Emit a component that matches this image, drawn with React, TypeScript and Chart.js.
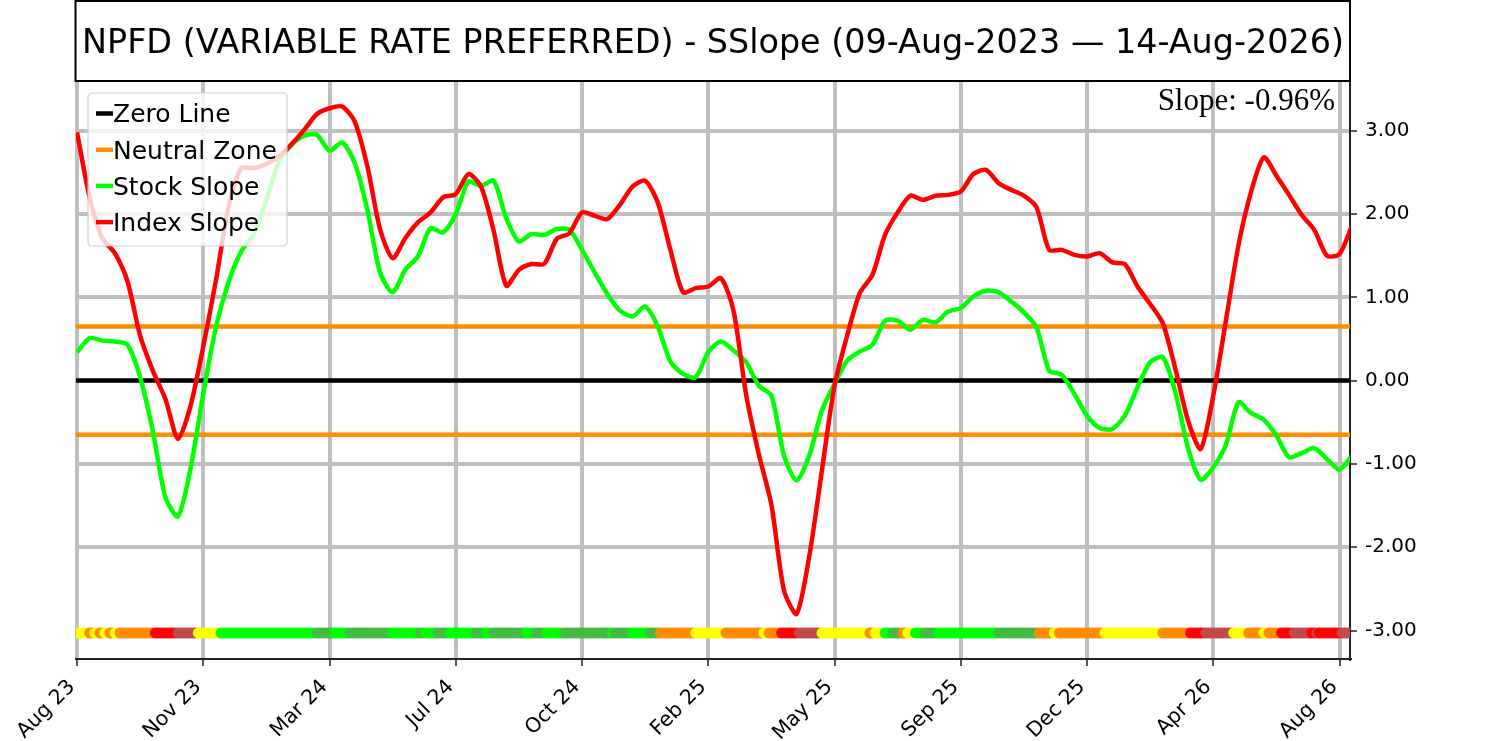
import React, { useEffect, useRef } from 'react';
import { Chart, registerables } from 'chart.js';

Chart.register(...registerables);

const TITLE = 'NPFD (VARIABLE RATE PREFERRED) - SSlope (09-Aug-2023 — 14-Aug-2026)';
const SLOPE_TEXT = 'Slope: -0.96%';

// x axis: one unit = distance between two consecutive date ticks
const tickLabels = ['Aug 23', 'Nov 23', 'Mar 24', 'Jul 24', 'Oct 24', 'Feb 25', 'May 25', 'Sep 25', 'Dec 25', 'Apr 26', 'Aug 26'];
const yTickValues = [-3, -2, -1, 0, 1, 2, 3];
const SAMPLE_STEP = 0.1; // x units between samples

const indexSlope = [
  2.98, 2.20, 1.71, 1.53, 1.19, 0.54, 0.12, -0.22, -0.70, -0.30,
  0.41, 1.20, 2.08, 2.55, 2.55, 2.60, 2.69, 2.84, 3.01, 3.20,
  3.27, 3.29, 3.11, 2.57, 1.82, 1.47, 1.71, 1.90, 2.02, 2.20,
  2.24, 2.48, 2.33, 1.80, 1.14, 1.33, 1.40, 1.40, 1.70, 1.77,
  2.02, 1.98, 1.94, 2.11, 2.33, 2.40, 2.14, 1.57, 1.06, 1.11,
  1.13, 1.23, 0.84, -0.17, -0.88, -1.49, -2.52, -2.80, -2.11, -1.08,
  -0.06, 0.54, 1.05, 1.27, 1.75, 2.02, 2.22, 2.17, 2.22, 2.23,
  2.27, 2.48, 2.53, 2.37, 2.29, 2.22, 2.08, 1.57, 1.57, 1.51,
  1.49, 1.53, 1.42, 1.40, 1.13, 0.92, 0.69, 0.14, -0.48, -0.82,
  -0.18, 0.72, 1.63, 2.27, 2.68, 2.46, 2.23, 1.99, 1.81, 1.50,
  1.52, 1.87,
];

const stockSlope = [
  0.34, 0.51, 0.48, 0.47, 0.43, 0.04, -0.60, -1.40, -1.63, -1.05,
  -0.16, 0.64, 1.18, 1.55, 1.76, 2.17, 2.63, 2.83, 2.94, 2.95,
  2.76, 2.86, 2.61, 2.05, 1.30, 1.06, 1.33, 1.49, 1.83, 1.78,
  2.00, 2.39, 2.34, 2.40, 1.95, 1.67, 1.76, 1.75, 1.82, 1.81,
  1.57, 1.30, 1.04, 0.84, 0.77, 0.89, 0.65, 0.23, 0.08, 0.04,
  0.34, 0.47, 0.36, 0.22, -0.06, -0.18, -0.90, -1.20, -0.90, -0.36,
  -0.04, 0.24, 0.35, 0.43, 0.72, 0.72, 0.61, 0.73, 0.70, 0.83,
  0.87, 1.01, 1.08, 1.06, 0.95, 0.82, 0.64, 0.12, 0.07, -0.16,
  -0.42, -0.57, -0.58, -0.42, -0.08, 0.22, 0.28, -0.14, -0.81, -1.19,
  -1.04, -0.77, -0.26, -0.39, -0.47, -0.66, -0.92, -0.87, -0.81, -0.94,
  -1.07, -0.90,
];

const zeroLevel = 0;
const neutralLevel = 0.65;

// bottom status band: run start (x units) and state code
const bandLevel = -3.03;
const BAND_STEP = 0.02;
const BAND_END = 10.1;
const bandStarts = [
  0, 0.097, 0.129, 0.177, 0.21, 0.258, 0.291, 0.339, 0.614, 0.792,
  0.954, 1.132, 1.892, 2.038, 2.151, 2.491, 2.701, 2.75, 2.846, 2.944,
  3.154, 3.235, 3.299, 3.542, 3.623, 3.72, 3.849, 4.222, 4.254, 4.383,
  4.529, 4.61, 4.885, 5.139, 5.44, 5.471, 5.574, 5.705, 5.889, 6.271,
  6.302, 6.39, 6.453, 6.524, 6.572, 6.639, 6.706, 6.806, 7.3, 7.606,
  7.74, 7.775, 8.14, 8.59, 8.806, 8.923, 9.156, 9.272, 9.389, 9.422,
  9.523, 9.64, 9.773, 9.802, 9.839, 10.006,
];
const bandCodes = [
  'Y', 'O', 'Y', 'O', 'Y', 'O', 'Y', 'O', 'R', 'B',
  'Y', 'G', 'D', 'G', 'D', 'G', 'D', 'G', 'D', 'G',
  'D', 'G', 'D', 'G', 'D', 'G', 'D', 'G', 'D', 'G',
  'D', 'O', 'Y', 'O', 'Y', 'O', 'R', 'B', 'Y', 'O',
  'Y', 'G', 'D', 'O', 'Y', 'G', 'D', 'G', 'D', 'O',
  'Y', 'O', 'Y', 'O', 'R', 'B', 'Y', 'O', 'Y', 'O',
  'R', 'B', 'R', 'B', 'R', 'B',
];
const bandPalette: Record<string, string> = {
  Y: '#ffff00',
  O: '#ff8c00',
  R: '#ff0000',
  B: '#c04a4a',
  G: '#00ff00',
  D: '#44bb44',
};

const FONT = "'DejaVu Sans', sans-serif";

function seriesPoints(values: number[]) {
  return values.map((v, i) => ({ x: +(i * SAMPLE_STEP).toFixed(3), y: v }));
}

function bandPoints() {
  const pts: { x: number; y: number; c: string }[] = [];
  const n = Math.round(BAND_END / BAND_STEP);
  for (let k = 0; k <= n; k++) {
    const x = k * BAND_STEP;
    let idx = 0;
    for (let j = 0; j < bandStarts.length; j++) if (bandStarts[j] <= x + 1e-9) idx = j;
    pts.push({ x, y: bandLevel, c: bandPalette[bandCodes[idx]] });
  }
  return pts;
}

const legendItems = [
  { label: 'Zero Line', color: '#000000' },
  { label: 'Neutral Zone', color: '#ff8c00' },
  { label: 'Stock Slope', color: '#00ff00' },
  { label: 'Index Slope', color: '#ff0000' },
];

const overlayPlugin = {
  id: 'overlay',
  afterDatasetsDraw(chart: any) {
    const ctx = chart.ctx;
    const area = chart.chartArea;
    ctx.save();
    // legend box
    const bx = area.left + 12, by = area.top + 12, bw = 199, bh = 153;
    const r = 4;
    ctx.beginPath();
    ctx.moveTo(bx + r, by);
    ctx.arcTo(bx + bw, by, bx + bw, by + bh, r);
    ctx.arcTo(bx + bw, by + bh, bx, by + bh, r);
    ctx.arcTo(bx, by + bh, bx, by, r);
    ctx.arcTo(bx, by, bx + bw, by, r);
    ctx.closePath();
    ctx.fillStyle = 'rgba(255,255,255,0.8)';
    ctx.fill();
    ctx.lineWidth = 1.2;
    ctx.strokeStyle = 'rgba(204,204,204,0.9)';
    ctx.stroke();
    ctx.font = `25px ${FONT}`;
    ctx.textBaseline = 'alphabetic';
    ctx.textAlign = 'left';
    legendItems.forEach((it, i) => {
      const cy = by + 20.5 + i * 36.2;
      ctx.beginPath();
      ctx.moveTo(bx + 8, cy);
      ctx.lineTo(bx + 25, cy);
      ctx.lineWidth = 4.5;
      ctx.strokeStyle = it.color;
      ctx.stroke();
      ctx.fillStyle = '#000';
      ctx.fillText(it.label, bx + 25, cy + 8.9);
    });
    // slope annotation
    ctx.font = "31px 'Liberation Serif', 'Times New Roman', serif";
    ctx.textAlign = 'right';
    ctx.fillStyle = '#000';
    ctx.fillText(SLOPE_TEXT, area.right - 15, area.top + 29);
    ctx.restore();
  },
  afterDraw(chart: any) {
    const ctx = chart.ctx;
    const area = chart.chartArea;
    ctx.save();
    // title box
    ctx.lineWidth = 2;
    ctx.strokeStyle = '#000';
    ctx.strokeRect(area.left - 0.5, 1, area.right - area.left + 0.5, area.top - 1);
    ctx.font = `33.4px ${FONT}`;
    ctx.textAlign = 'center';
    ctx.textBaseline = 'alphabetic';
    ctx.fillStyle = '#000';
    ctx.fillText(TITLE, (area.left + area.right) / 2, 52.5);
    ctx.restore();
  },
};

export default function App() {
  const ref = useRef<HTMLCanvasElement | null>(null);

  useEffect(() => {
    if (!ref.current) return;
    const band = bandPoints();
    const chart = new Chart(ref.current, {
      type: 'line',
      data: {
        datasets: [
          {
            label: 'Zero Line',
            data: [{ x: -1, y: zeroLevel }, { x: 11, y: zeroLevel }],
            borderColor: '#000000',
            borderWidth: 4.5,
            pointRadius: 0,
            order: 4,
          },
          {
            label: 'Neutral Zone',
            data: [{ x: -1, y: neutralLevel }, { x: 11, y: neutralLevel }],
            borderColor: '#ff8c00',
            borderWidth: 4.5,
            pointRadius: 0,
            order: 4,
          },
          {
            label: 'Neutral Zone (low)',
            data: [{ x: -1, y: -neutralLevel }, { x: 11, y: -neutralLevel }],
            borderColor: '#ff8c00',
            borderWidth: 4.5,
            pointRadius: 0,
            order: 4,
          },
          {
            label: 'Stock Slope',
            data: seriesPoints(stockSlope),
            borderColor: '#00ff00',
            borderWidth: 4.5,
            pointRadius: 0,
            tension: 0.25,
            order: 2,
          },
          {
            label: 'Index Slope',
            data: seriesPoints(indexSlope),
            borderColor: '#ff0000',
            borderWidth: 4.5,
            pointRadius: 0,
            tension: 0.25,
            order: 1,
          },
          {
            label: 'Band',
            data: band.map((p) => ({ x: p.x, y: p.y })),
            showLine: false,
            pointRadius: 5.4,
            pointBorderWidth: 0,
            pointBackgroundColor: band.map((p) => p.c),
            pointBorderColor: band.map((p) => p.c),
            order: 3,
          } as any,
        ],
      },
      options: {
        animation: false,
        responsive: false,
        devicePixelRatio: 1,
        layout: { padding: { left: 76, top: 81, right: 0, bottom: 0 } },
        plugins: {
          legend: { display: false },
          tooltip: { enabled: false },
          title: { display: false },
        },
        scales: {
          x: {
            type: 'linear',
            min: -0.008,
            max: 10.083,
            afterFit: (scale: any) => {
              scale.height = 82;
            },
            afterBuildTicks: (scale: any) => {
              scale.ticks = tickLabels.map((_, i) => ({ value: i }));
            },
            grid: {
              color: '#bfbfbf',
              lineWidth: 4,
              drawTicks: true,
              tickLength: 7,
              tickColor: '#222',
              tickWidth: 1.5,
            },
            border: { display: true, color: '#222', width: 2 },
            ticks: {
              autoSkip: false,
              minRotation: 45,
              maxRotation: 45,
              padding: 9,
              labelOffset: -5,
              color: '#000',
              font: { family: FONT, size: 20.5 },
              callback: (_v: any, i: number) => tickLabels[i],
            },
          },
          y: {
            type: 'linear',
            position: 'right',
            min: -3.342,
            max: 3.597,
            afterFit: (scale: any) => {
              scale.width = 150;
            },
            afterBuildTicks: (scale: any) => {
              scale.ticks = yTickValues.map((v) => ({ value: v }));
            },
            grid: {
              color: '#bfbfbf',
              lineWidth: 4,
              drawTicks: true,
              tickLength: 7,
              tickColor: '#222',
              tickWidth: 1.5,
            },
            border: { display: true, color: '#222', width: 2 },
            ticks: {
              padding: 8,
              color: '#000',
              font: { family: FONT, size: 20 },
              callback: (v: any) => Number(v).toFixed(2),
            },
          },
        },
      },
      plugins: [overlayPlugin],
    });
    return () => chart.destroy();
  }, []);

  return (
    <div style={{ position: 'absolute', left: 0, top: 0, width: 1500, height: 741, background: '#fff' }}>
      <canvas ref={ref} width={1500} height={741} style={{ width: 1500, height: 741, display: 'block' }} />
    </div>
  );
}
